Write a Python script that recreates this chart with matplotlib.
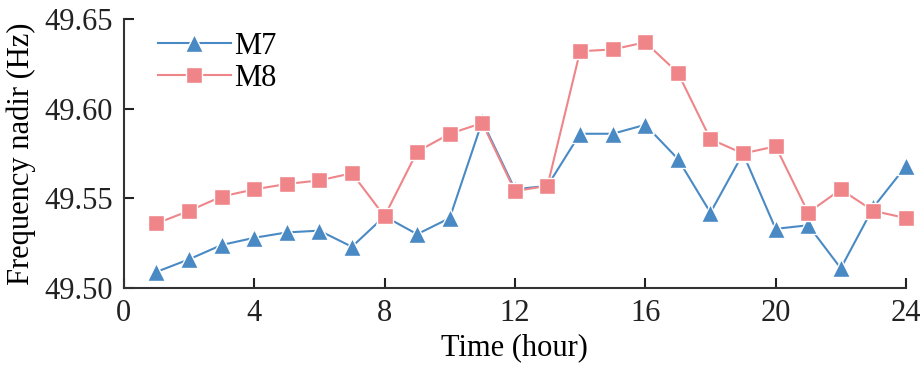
import matplotlib
matplotlib.use("Agg")
import matplotlib.pyplot as plt

hours = list(range(1, 25))

m7 = [49.509, 49.516, 49.524, 49.528, 49.531, 49.532, 49.523, 49.540,
      49.530, 49.539, 49.593, 49.555, 49.557, 49.586, 49.586, 49.591,
      49.572, 49.542, 49.575, 49.533, 49.535, 49.511, 49.545, 49.568]

m8 = [49.536, 49.543, 49.551, 49.555, 49.558, 49.560, 49.564, 49.540,
      49.576, 49.586, 49.592, 49.554, 49.557, 49.632, 49.633, 49.637,
      49.620, 49.583, 49.575, 49.579, 49.542, 49.555, 49.543, 49.539]

x_ticks = [0, 4, 8, 12, 16, 20, 24]
y_ticks = [49.50, 49.55, 49.60, 49.65]

plt.rcParams["font.family"] = ["Liberation Serif", "DejaVu Serif"]

fig = plt.figure(figsize=(9.24, 3.79), dpi=100)
ax = fig.add_axes([0.134, 0.240, 0.8465, 0.710])

blue = "#4a8ac4"
pink = "#ef8589"

ax.plot(hours, m7, color=blue, lw=1.5, marker="^", markersize=13,
        markeredgecolor="white", markeredgewidth=1.0, label="M7", clip_on=False)
ax.plot(hours, m8, color=pink, lw=1.5, marker="s", markersize=11,
        markeredgecolor="white", markeredgewidth=1.0, label="M8", clip_on=False)

ax.set_xlim(0, 24)
ax.set_ylim(49.50, 49.65)
ax.set_xticks(x_ticks)
ax.set_yticks(y_ticks)
ax.set_yticklabels([f"{v:.2f}" for v in y_ticks])

for side in ["top", "right"]:
    ax.spines[side].set_visible(False)
for side in ["left", "bottom"]:
    ax.spines[side].set_linewidth(1.5)
    ax.spines[side].set_color("#333333")

ax.tick_params(direction="in", length=7, width=1.5, labelsize=22, colors="#222222", pad=8)
ax.set_xlabel("Time (hour)", fontsize=22, labelpad=4)
ax.set_ylabel("Frequency nadir (Hz)", fontsize=22, labelpad=6)

ax.legend(loc="upper left", bbox_to_anchor=(0.02, 1.02), frameon=False, fontsize=22,
          handlelength=2.4, handletextpad=0.1, labelspacing=0.1, borderaxespad=0.2)

fig.savefig("out.png", dpi=100)
